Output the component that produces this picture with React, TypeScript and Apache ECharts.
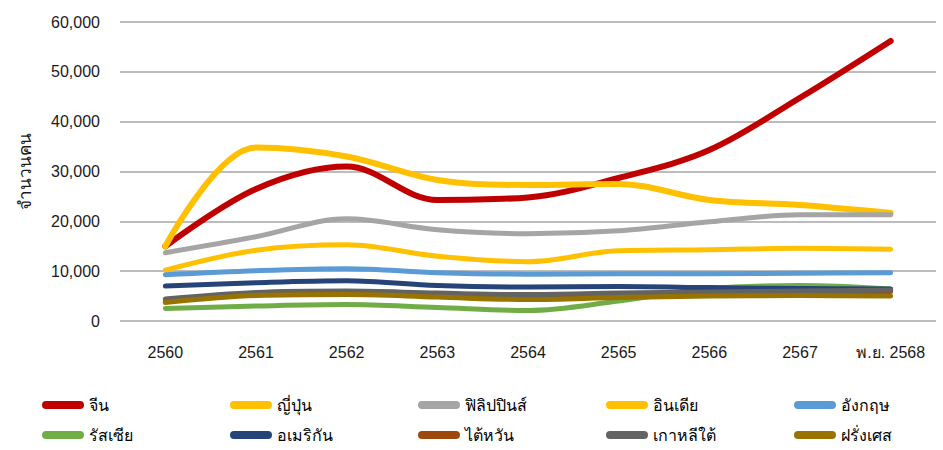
import React, { useRef, useEffect } from "react";
import * as echarts from "echarts";

const years = ["2560", "2561", "2562", "2563", "2564", "2565", "2566", "2567", "พ.ย. 2568"];
const yTicks = [0, 10000, 20000, 30000, 40000, 50000, 60000];

const china = [15000, 26500, 31000, 24300, 24800, 28700, 34300, 44800, 56200];
const japan = [15000, 34800, 33000, 28300, 27300, 27500, 24300, 23300, 21700];
const philippines = [13700, 16900, 20500, 18300, 17500, 18100, 19900, 21300, 21300];
const india = [10200, 14200, 15300, 13000, 11900, 14100, 14300, 14600, 14400];
const uk = [9300, 10100, 10500, 9700, 9400, 9500, 9500, 9600, 9700];
const russia = [2500, 3000, 3300, 2700, 2100, 4000, 6500, 7100, 6400];
const usa = [7000, 7700, 8100, 7100, 6800, 6900, 6700, 6500, 6400];
const taiwan = [4000, 5300, 5600, 5000, 4700, 5000, 5200, 5500, 5900];
const korea = [4400, 5700, 6000, 5600, 5300, 5600, 5800, 6000, 6200];
const france = [3700, 5100, 5300, 4800, 4300, 4700, 5000, 5100, 5000];

const names = ["จีน", "ญี่ปุ่น", "ฟิลิปปินส์", "อินเดีย", "อังกฤษ", "รัสเซีย", "อเมริกัน", "ไต้หวัน", "เกาหลีใต้", "ฝรั่งเศส"];
const values = [china, japan, philippines, india, uk, russia, usa, taiwan, korea, france];
const colors = ["#C00000", "#FFC000", "#A5A5A5", "#FFC000", "#5B9BD5", "#70AD47", "#264478", "#9E480E", "#636363", "#997300"];

const font = "'Liberation Sans', Arial, 'Noto Sans', sans-serif";
const legendIcon = "path://M4,0 L38,0 A4,4 0 0 1 38,8 L4,8 A4,4 0 0 1 4,0 Z";

const App = function () {
  const chart = useRef<HTMLDivElement>(null);
  useEffect(() => {
    document.body.style.margin = "0";
    if (!chart.current) return;
    const myChart = echarts.init(chart.current, null, { renderer: "svg" });
    // one legend per item so the columns sit on a fixed 188px pitch
    const legends = names.map((name, i) => ({
      data: [name],
      top: i < 5 ? 392 : 422,
      left: 37 + (i % 5) * 188,
      itemWidth: 42,
      itemHeight: 8,
      icon: legendIcon,
      selectedMode: false,
      textStyle: { fontSize: 16, color: "#000", fontFamily: font },
    }));
    const option = {
      animation: false,
      grid: { left: 120, right: 7, top: 22, bottom: 129 },
      legend: legends,
      xAxis: {
        type: "category",
        data: years,
        boundaryGap: true,
        axisLine: { show: false },
        axisTick: { show: false },
        axisLabel: { margin: 23, fontSize: 16, color: "#1a1a1a", fontFamily: font },
      },
      yAxis: {
        type: "value",
        min: yTicks[0],
        max: yTicks[yTicks.length - 1],
        interval: 10000,
        name: "จำนวนคน",
        nameLocation: "middle",
        nameRotate: 90,
        nameGap: 86,
        nameTextStyle: { fontSize: 17, color: "#1a1a1a", fontFamily: font },
        axisLabel: {
          margin: 20,
          fontSize: 16,
          color: "#1a1a1a",
          fontFamily: font,
          formatter: (v: number) => v.toLocaleString("en-US"),
        },
        splitLine: { lineStyle: { color: "#A6A6A6", width: 1.5 } },
      },
      series: names.map((name, i) => ({
        name,
        type: "line",
        data: values[i],
        smooth: 0.35,
        showSymbol: false,
        symbol: "none",
        lineStyle: { color: colors[i], width: i < 2 ? 6 : 5, cap: "round", join: "round" },
        itemStyle: { color: colors[i] },
      })),
    };
    myChart.setOption(option as any);
    return () => {
      myChart.dispose();
    };
  }, []);
  return <div ref={chart} style={{ width: 943, height: 450 }}></div>;
};

export default App;
